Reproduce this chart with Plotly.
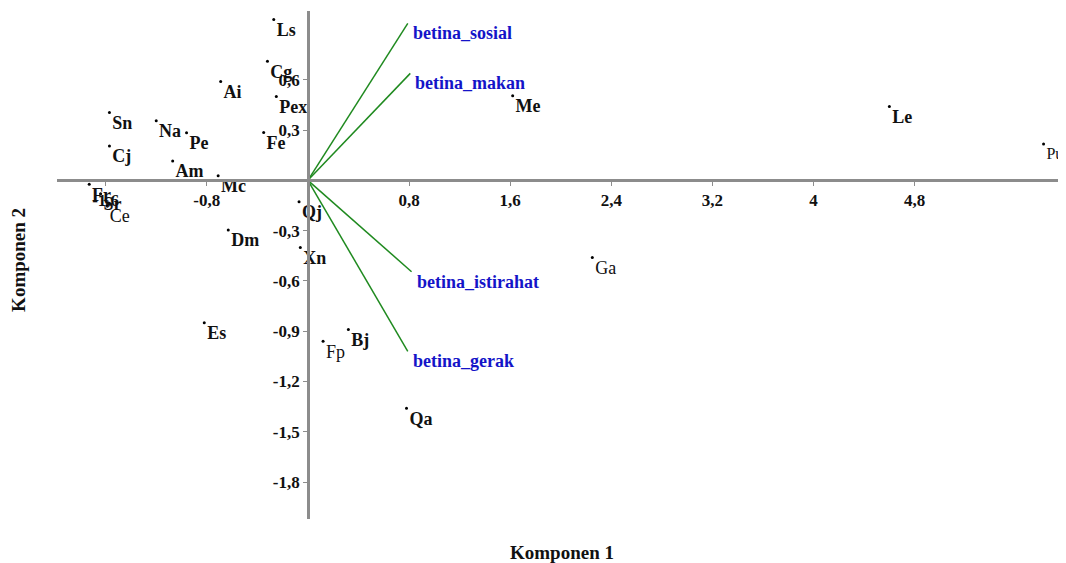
"""Biplot PCA komponen 1 vs komponen 2 (betina)."""
import plotly.graph_objects as go

# Warna
AXIS, GREEN, BLUE, TEXT = "#8c8c8c", "#1f8a1f", "#1414c8", "#111111"
FONT = "Liberation Serif"

# skor spesies (komponen 1, komponen 2)
SPECIES = ["Ls", "Cg", "Ai", "Pex", "Sn", "Na", "Pe", "Fe", "Cj", "Am", "Mc",
           "Fr", "Sr", "Ce", "Qj", "Dm", "Xn", "Es", "Fp", "Bj", "Qa", "Ga",
           "Me", "Le", "Pu"]
PC1 = [-0.27, -0.32, -0.69, -0.25, -1.57, -1.20, -0.96, -0.35, -1.57, -1.07, -0.71,
       -1.73, -1.64, -1.59, -0.07, -0.63, -0.06, -0.82, 0.12, 0.32, 0.78, 2.25,
       1.62, 4.60, 5.82]
PC2 = [0.96, 0.71, 0.59, 0.50, 0.405, 0.355, 0.284, 0.286, 0.205, 0.115, 0.027,
       -0.024, -0.08, -0.15, -0.128, -0.296, -0.40, -0.85, -0.96, -0.89, -1.36, -0.46,
       0.505, 0.44, 0.216]
REGULAR = {"Ga", "Pu", "Ce", "Fp"}  # label yg tidak tebal di gambar asli

# loading variabel
VARS = ["betina_sosial", "betina_makan", "betina_istirahat", "betina_gerak"]
LOAD1 = [0.79, 0.81, 0.82, 0.79]
LOAD2 = [0.936, 0.638, -0.545, -1.02]

XTICKS = [-1.6, -0.8, 0.8, 1.6, 2.4, 3.2, 4, 4.8]
XTICKTEXT = ["-1,6", "-0,8", "0,8", "1,6", "2,4", "3,2", "4", "4,8"]
YTICKS = [0.6, 0.3, -0.3, -0.6, -0.9, -1.2, -1.5, -1.8]
YTICKTEXT = ["0,6", "0,3", "-0,3", "-0,6", "-0,9", "-1,2", "-1,5", "-1,8"]

XR = [-1.985, 5.95]
YR = [-2.02, 1.01]

fig = go.Figure()

for name, lx, ly in zip(VARS, LOAD1, LOAD2):
    fig.add_trace(go.Scatter(x=[0, lx], y=[0, ly], mode="lines",
                             line=dict(color=GREEN, width=1.5), showlegend=False,
                             hoverinfo="skip"))
    fig.add_annotation(x=lx, y=ly, text=f"<b>{name}</b>", showarrow=False,
                       xanchor="left", yanchor="middle", xshift=3, yshift=-10,
                       font=dict(family=FONT, size=18, color=BLUE))

labels = [s if s in REGULAR else f"<b>{s}</b>" for s in SPECIES]
# Pu di tepi kanan, font sedikit kecil supaya tidak terpotong
sizes = [16 if s == "Pu" else 18 for s in SPECIES]
fig.add_trace(go.Scatter(
    x=PC1, y=PC2, mode="markers+text", text=labels, textposition="bottom right",
    marker=dict(size=3, color="black"), cliponaxis=False,
    textfont=dict(family=FONT, size=sizes, color=TEXT),
    showlegend=False, hovertemplate="%{text}<br>%{x:.2f}, %{y:.2f}<extra></extra>",
))

# posisi sumbu di titik nol
xpos = (0 - YR[0]) / (YR[1] - YR[0])
ypos = (0 - XR[0]) / (XR[1] - XR[0])

axis_common = dict(showgrid=False, zeroline=False, showline=True, linecolor=AXIS,
                   linewidth=2.5, ticks="outside", ticklen=4, tickcolor=AXIS,
                   tickwidth=1, anchor="free",
                   tickfont=dict(family=FONT, size=17, color=TEXT, weight="bold"))
fig.update_xaxes(range=XR, tickvals=XTICKS, ticktext=XTICKTEXT, position=xpos,
                 **axis_common)
fig.update_yaxes(range=YR, tickvals=YTICKS, ticktext=YTICKTEXT, position=ypos,
                 **axis_common)

fig.add_annotation(x=0.503, y=-0.041, xref="paper", yref="paper", showarrow=False,
                   text="<b>Komponen 1</b>", xanchor="center", yanchor="top",
                   font=dict(family=FONT, size=19, color=TEXT))
fig.add_annotation(x=-0.039, y=0.5, xref="paper", yref="paper", showarrow=False,
                   text="<b>Komponen 2</b>", textangle=-90, xanchor="center",
                   yanchor="middle", yshift=5, font=dict(family=FONT, size=19, color=TEXT))

# halaman punya margin 8px, jadi ukuran figur dikurangi
fig.update_layout(
    paper_bgcolor="white", plot_bgcolor="white",
    width=1058, height=555, margin=dict(l=49, r=6, t=3, b=44),
    font=dict(family=FONT, color=TEXT),
)

fig.write_html("out.html")
